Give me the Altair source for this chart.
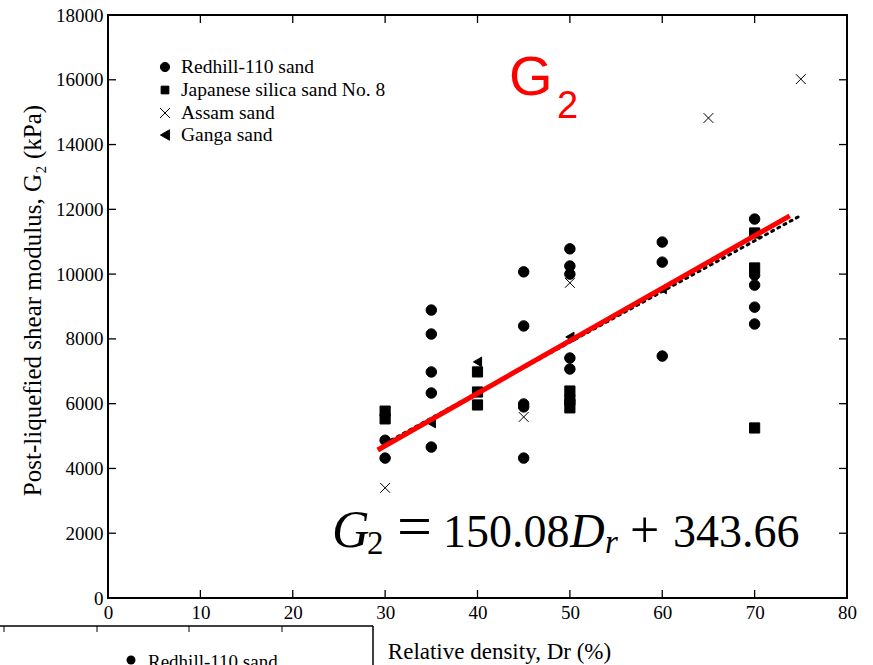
import altair as alt
import pandas as pd

# ---------------- data ----------------
series_names = ["Redhill-110 sand", "Japanese silica sand No. 8", "Assam sand", "Ganga sand"]

redhill_dr = [30, 30, 35, 35, 35, 35, 35, 45, 45, 45, 45, 45, 50, 50, 50, 50, 50, 50, 60, 60, 60, 70, 70, 70, 70, 70]
redhill_g = [4870, 4320, 8890, 8150, 6980, 6330, 4660, 10070, 8400, 5990, 5900, 4320,
             10780, 10250, 10000, 7410, 7070, 6080, 10990, 10370, 7470, 11700, 9970, 9660, 8980, 8460]

japan_dr = [30, 30, 40, 40, 40, 50, 50, 50, 70, 70, 70]
japan_g = [5770, 5530, 6980, 6360, 5960, 6390, 6110, 5870, 11270, 10190, 5250]

assam_dr = [30, 45, 50, 65, 75]
assam_g = [3400, 5590, 9730, 14820, 16020]

ganga_dr = [35, 40, 50, 60]
ganga_g = [5400, 7290, 8060, 9540]

fit_dr = [29.2, 73.8]
fit_g = [4570, 11800]

trend_dr = [30, 74.8]
trend_g = [4770, 11780]

x_ticks = [0, 10, 20, 30, 40, 50, 60, 70, 80]
y_ticks = [0, 2000, 4000, 6000, 8000, 10000, 12000, 14000, 16000, 18000]

# ---------------- tables ----------------
rows = []
for name, xs, ys in [(series_names[0], redhill_dr, redhill_g),
                     (series_names[1], japan_dr, japan_g),
                     (series_names[2], assam_dr, assam_g),
                     (series_names[3], ganga_dr, ganga_g)]:
    for a, b in zip(xs, ys):
        rows.append({"Dr": a, "G2": b, "series": name, "sz": name})
pts = pd.DataFrame(rows)
fit = pd.DataFrame({"Dr": fit_dr, "G2": fit_g})
trend = pd.DataFrame({"Dr": trend_dr, "G2": trend_g})
xt = pd.DataFrame({"v": x_ticks})
yt = pd.DataFrame({"v": y_ticks})
one = pd.DataFrame({"a": [0]})

W, H = 739, 583
SERIF = "Liberation Serif"
SANS = "Liberation Sans"
XPATH = "M-1,-1L1,1M-1,1L1,-1"
SHAPES = ["circle", "square", XPATH, "triangle-left"]

xscale = alt.Scale(domain=[0, 80], nice=False)
yscale = alt.Scale(domain=[0, 18000], nice=False)

xaxis = alt.Axis(values=x_ticks, ticks=False, tickSize=0, domain=False, grid=False,
                 labelFont=SERIF, labelFontSize=19, labelColor="black", labelPadding=5,
                 labelFlush=False, labelOverlap=False,
                 title="Relative density, Dr (%)", titleFont=SERIF, titleFontSize=23,
                 titleFontWeight="normal", titleColor="black",
                 titleX=391, titleY=60, titleBaseline="alphabetic", titleAnchor="middle")
yaxis = alt.Axis(values=y_ticks, format="d", ticks=False, tickSize=0, domain=False, grid=False,
                 labelFont=SERIF, labelFontSize=19, labelColor="black", labelPadding=5,
                 labelFlush=False, labelOverlap=False,
                 title="Post-liquefied shear modulus, G\u2082 (kPa)", titleFont=SERIF,
                 titleFontSize=25, titleFontWeight="normal", titleColor="black",
                 titleX=-68, titleY=285, titleBaseline="alphabetic", titleAngle=-90,
                 titleAlign="center", titleAnchor="middle")

points = alt.Chart(pts).mark_point(filled=True, color="black", stroke="black",
                                   strokeWidth=1, opacity=1).encode(
    x=alt.X("Dr:Q", scale=xscale, axis=xaxis),
    y=alt.Y("G2:Q", scale=yscale, axis=yaxis),
    shape=alt.Shape("series:N", scale=alt.Scale(domain=series_names, range=SHAPES),
                    legend=None),
    size=alt.Size("sz:N",
                  scale=alt.Scale(domain=series_names, range=[110, 90, 150, 110]),
                  legend=None),
)

trend_line = alt.Chart(trend).mark_line(color="black", strokeWidth=3,
                                        strokeDash=[2, 5], strokeCap="round").encode(
    x=alt.X("Dr:Q", scale=xscale), y=alt.Y("G2:Q", scale=yscale))

fit_line = alt.Chart(fit).mark_line(color="#ff0000", strokeWidth=5).encode(
    x=alt.X("Dr:Q", scale=xscale), y=alt.Y("G2:Q", scale=yscale))

tick_style = dict(color="black", strokeWidth=1.3)
bx = alt.Chart(xt).mark_rule(**tick_style).encode(x=alt.X("v:Q", scale=xscale),
                                                   y=alt.value(H), y2=alt.value(H - 8))
tx = alt.Chart(xt).mark_rule(**tick_style).encode(x=alt.X("v:Q", scale=xscale),
                                                   y=alt.value(0), y2=alt.value(8))
ly = alt.Chart(yt).mark_rule(**tick_style).encode(y=alt.Y("v:Q", scale=yscale),
                                                   x=alt.value(0), x2=alt.value(8))
ry = alt.Chart(yt).mark_rule(**tick_style).encode(y=alt.Y("v:Q", scale=yscale),
                                                   x=alt.value(W), x2=alt.value(W - 8))


def txt(s, px, py, size, font=SERIF, style="normal", color="black", baseline="alphabetic"):
    return alt.Chart(one).mark_text(text=s, align="left", baseline=baseline, font=font,
                                    fontSize=size, fontStyle=style, color=color).encode(
        x=alt.value(px), y=alt.value(py))


# legend (top-left, inside the plot)
legend_layers = []
leg_rows = [52, 75, 98, 120]
leg_sizes = [85, 60, 100, 110]
for i, name in enumerate(series_names):
    legend_layers.append(
        alt.Chart(one).mark_point(filled=True, color="black", stroke="black", strokeWidth=1,
                                  opacity=1, shape=SHAPES[i], size=leg_sizes[i]).encode(
            x=alt.value(57), y=alt.value(leg_rows[i])))
    legend_layers.append(txt(name, 73, leg_rows[i], 19.5, baseline="middle"))

# red "G2" label
g_label = txt("G", 401, 80, 56, font=SANS, color="#ff0000")
g_sub = txt("2", 449, 103, 38, font=SANS, color="#ff0000")

# equation
eq = [
    txt("G", 224, 532, 52, style="italic"),
    txt("2", 259, 539, 33),
    txt("=", 289, 532, 62),
    txt("150.08", 335, 532, 46),
    txt("D", 462, 532, 48, style="italic"),
    txt("r", 497, 538, 33, style="italic"),
    txt("+", 522, 532, 52),
    txt("343.66", 565, 532, 46),
]

# remnant of a second figure below the axis (cropped in the reference)
rem_h = alt.Chart(one).mark_rule(color="black", strokeWidth=1.5).encode(
    x=alt.value(-108), x2=alt.value(265), y=alt.value(611))
rem_v = alt.Chart(one).mark_rule(color="black", strokeWidth=1.5).encode(
    x=alt.value(265), y=alt.value(611), y2=alt.value(660))
rem_ticks = [alt.Chart(one).mark_rule(color="black", strokeWidth=1).encode(
    x=alt.value(px), y=alt.value(611), y2=alt.value(617)) for px in [-104, -11, 81, 174]]
rem_dot = alt.Chart(one).mark_point(shape="circle", filled=True, color="black", size=80,
                                    opacity=1).encode(x=alt.value(23), y=alt.value(645))
rem_text = txt("Redhill-110 sand", 40, 653, 19)

chart = alt.layer(
    points, trend_line, fit_line, bx, tx, ly, ry, *legend_layers, g_label, g_sub, *eq,
    rem_h, rem_v, *rem_ticks, rem_dot, rem_text
).properties(
    width=W, height=H,
    autosize=alt.AutoSizeParams(type="none"),
    padding={"left": 108, "top": 15, "right": 26, "bottom": 67},
    background="white",
).configure_view(stroke="black", strokeWidth=2)

chart.save("out.html", embed_options={"renderer": "svg", "actions": False})
